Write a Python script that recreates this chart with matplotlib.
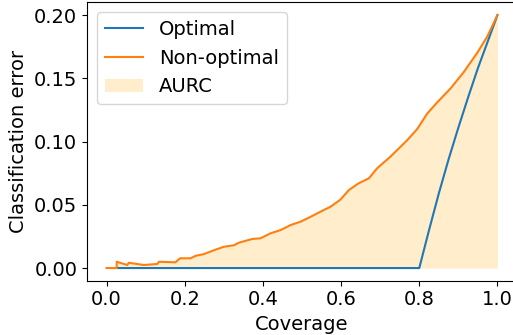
import matplotlib
matplotlib.use("Agg")
import matplotlib.pyplot as plt

# optimal risk-coverage curve
opt_cov = [0.028, 0.80, 0.825, 0.85, 0.875, 0.90, 0.925, 0.95, 0.975, 1.00]
opt_err = [0.0, 0.0, 0.030, 0.059, 0.086, 0.111, 0.135, 0.158, 0.179, 0.200]

# non-optimal risk-coverage curve
nonopt_cov = [0.0, 0.026, 0.026, 0.053, 0.057, 0.095, 0.13, 0.134, 0.176, 0.188,
              0.215, 0.228, 0.249, 0.274, 0.30, 0.326, 0.338, 0.373, 0.394, 0.419,
              0.445, 0.471, 0.496, 0.522, 0.547, 0.573, 0.598, 0.620, 0.645, 0.671,
              0.692, 0.726, 0.769, 0.795, 0.820, 0.846, 0.880, 0.914, 0.948, 0.974, 1.0]
nonopt_err = [0.0, 0.0, 0.005, 0.0024, 0.0042, 0.0024, 0.0032, 0.005, 0.0045, 0.0077,
              0.0077, 0.0097, 0.011, 0.014, 0.0168, 0.018, 0.020, 0.023, 0.0235, 0.0274,
              0.030, 0.034, 0.0366, 0.0405, 0.0445, 0.0485, 0.054, 0.0617, 0.067, 0.0709,
              0.0788, 0.088, 0.101, 0.110, 0.122, 0.131, 0.142, 0.155, 0.170, 0.183, 0.200]

plt.rcParams['font.size'] = 14
fig = plt.figure(figsize=(5.13, 3.35), dpi=100)
ax = fig.add_axes([87 / 513, 54.3 / 335, 430 / 513, 278.3 / 335])

ax.plot(opt_cov, opt_err, color='tab:blue', label='Optimal')
ax.plot(nonopt_cov, nonopt_err, color='tab:orange', label='Non-optimal')
ax.fill_between(nonopt_cov, nonopt_err, color='orange', alpha=0.2, linewidth=0, label='AURC')

ax.set_xlabel('Coverage')
ax.set_ylabel('Classification error')
ax.set_xticks([0.0, 0.2, 0.4, 0.6, 0.8, 1.0])
ax.set_yticks([0.00, 0.05, 0.10, 0.15, 0.20])
ax.legend(loc='upper left')

fig.savefig('out.png', dpi=100)
